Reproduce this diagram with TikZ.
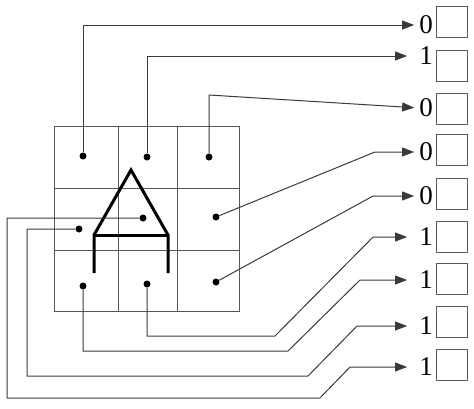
\documentclass[tikz,border=0pt]{standalone}
\usepackage{fontspec}
\setmainfont{Liberation Serif}
\usetikzlibrary{arrows.meta}
\definecolor{ln}{HTML}{3A3A3A}
\begin{document}
\begin{tikzpicture}[x=1pt,y=-1pt,
  gridline/.style={draw=ln!85,line width=1pt},
  dot/.style={circle,fill=black,inner sep=0pt,minimum size=7pt},
  conn/.style={draw=ln,line width=1pt,line join=round},
  arr0/.style={conn,-{Triangle[length=12pt,width=9pt]},shorten >=5pt},
  arr1/.style={conn,-{Triangle[length=12pt,width=9pt]},shorten >=12pt},
  digit/.style={inner sep=0pt,anchor=east,font=\fontsize{27}{27}\selectfont},
  cell/.style={draw=ln!85,line width=1pt,minimum width=31pt,minimum height=31pt,inner sep=0pt},
  figline/.style={draw=black,line width=3pt,line join=miter}]
\useasboundingbox (0,0) rectangle (474,408);
% grid
\draw[gridline] (54,126) rectangle (239,311);
\draw[gridline] (118,126) -- (118,311);
\draw[gridline] (177,126) -- (177,311);
\draw[gridline] (54,188) -- (239,188);
\draw[gridline] (54,250) -- (239,250);
% triangle figure
\draw[figline] (94,273) -- (94,235) -- (131,170) -- (168,235) -- (168,273);
\draw[figline] (94,235) -- (168,235);
% dots
\node[dot] (a1) at (83,156) {};
\node[dot] (b1) at (147,157) {};
\node[dot] (c1) at (209,157) {};
\node[dot] (a2) at (79,229) {};
\node[dot] (b2) at (143,218) {};
\node[dot] (c2) at (216,217) {};
\node[dot] (a3) at (83,286) {};
\node[dot] (b3) at (147,284) {};
\node[dot] (c3) at (216,282) {};
% digits
\node[digit] (d1) at (433,25) {0};
\node[digit] (d2) at (433,56) {1};
\node[digit] (d3) at (433,108) {0};
\node[digit] (d4) at (433,152) {0};
\node[digit] (d5) at (433,196) {0};
\node[digit] (d6) at (433,237) {1};
\node[digit] (d7) at (433,280) {1};
\node[digit] (d8) at (433,326) {1};
\node[digit] (d9) at (433,367) {1};
% boxes
\node[cell] (k1) at (451.5,22) {};
\node[cell] (k2) at (451.5,66) {};
\node[cell] (k3) at (451.5,109) {};
\node[cell] (k4) at (451.5,150) {};
\node[cell] (k5) at (451.5,194) {};
\node[cell] (k6) at (451.5,237) {};
\node[cell] (k7) at (451.5,279) {};
\node[cell] (k8) at (451.5,322) {};
\node[cell] (k9) at (451.5,365) {};
% connectors
\draw[arr0] (a1) |- (d1.west);
\draw[arr1] (b1) |- (d2.west);
\draw[arr0] (c1) -- (209,95) -- (d3.west);
\draw[arr0] (c2) -- (375,152) -- (d4.west);
\draw[arr0] (c3) -- (373,196) -- (d5.west);
\draw[arr1] (b3) |- (275,336) -- (373,237) -- (d6.west);
\draw[arr1] (a3) |- (288,351) -- (360,280) -- (d7.west);
\draw[arr1] (a2) -| (27,376) -- (308,376) -- (357,326) -- (d8.west);
\draw[arr1] (b2) -| (7,398) -- (320,398) -- (350,367) -- (d9.west);
\end{tikzpicture}
\end{document}
